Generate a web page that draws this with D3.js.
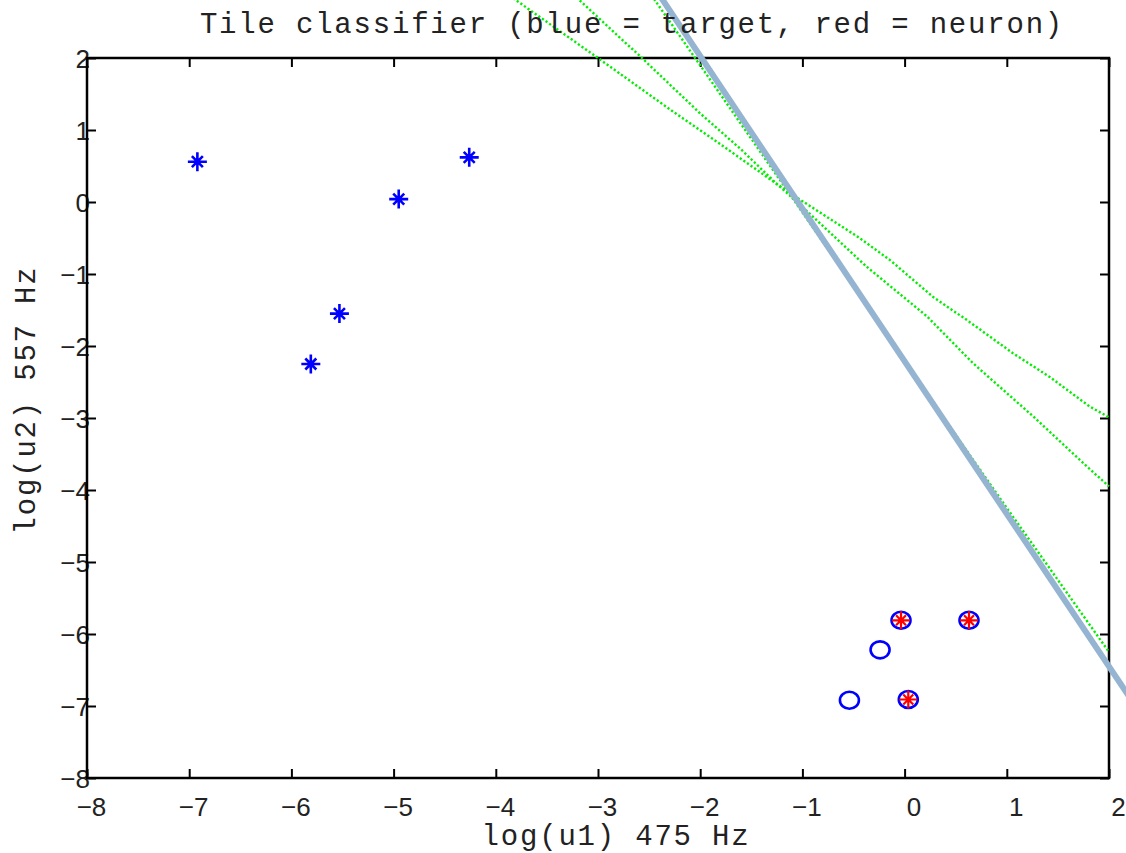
<!DOCTYPE html>
<html>
<head>
<meta charset="utf-8">
<script src="https://cdn.jsdelivr.net/npm/d3@7"></script>
<style>
  html, body { margin: 0; padding: 0; background: #fff; }
  svg { display: block; }
</style>
</head>
<body>
<svg id="chart" width="1126" height="853"></svg>
<script>
// ---- data ----
const xTicks = [-8, -7, -6, -5, -4, -3, -2, -1, 0, 1, 2];
const yTicks = [-8, -7, -6, -5, -4, -3, -2, -1, 0, 1, 2];

const targetStarX = [-6.92, -5.81, -5.53, -4.95, -4.26];
const targetStarY = [0.56, -2.25, -1.55, 0.04, 0.62];

const targetCircleX = [-0.54, -0.24, -0.035, 0.036, 0.63];
const targetCircleY = [-6.92, -6.22, -5.81, -6.91, -5.81];

const neuronStarX = [-0.035, 0.036, 0.63];
const neuronStarY = [-5.81, -6.91, -5.81];

const boundaryX = [-2.6, 2.4];
const boundaryY = [3.30, -7.30];

const greenAX = [-3.9, -3.0, -2.3, -1.9, -1.25, -1.02, -0.44, -0.14, 0.28, 0.61, 1.06, 1.42, 1.81, 2.0];
const greenAY = [2.90, 2.00, 1.29, 0.90, 0.25, 0.03, -0.50, -0.81, -1.32, -1.64, -2.10, -2.43, -2.84, -2.99];

const greenBX = [-3.4, -2.57, -2.0, -1.6, -1.25, -1.02, -0.37, 0.22, 0.67, 1.26, 1.75, 2.0];
const greenBY = [3.09, 2.00, 1.23, 0.73, 0.25, -0.04, -0.90, -1.59, -2.24, -2.98, -3.63, -3.95];

const greenCX = [-2.55, -2.05, -1.55, -1.1, -0.5, 0.35, 1.0, 1.5, 2.0];
const greenCY = [3.02, 2.00, 0.98, 0.06, -1.17, -2.93, -4.25, -5.25, -6.25];

const titleText = "Tile classifier (blue = target, red = neuron)";
const xLabelText = "log(u1) 475 Hz";
const yLabelText = "log(u2) 557 Hz";

// ---- layout ----
const plotL = 87, plotR = 1109, plotT = 58, plotB = 778;
const x = d3.scaleLinear().domain([-8, 2]).range([plotL, plotR]);
const y = d3.scaleLinear().domain([-8, 2]).range([plotB, plotT]);

const svg = d3.select("#chart");
svg.append("rect").attr("width", 1126).attr("height", 853).attr("fill", "#fff");

const tickFont = "'Liberation Sans', Arial, sans-serif";
const monoFont = "'Liberation Mono', 'Courier New', monospace";

function styleAxis(g) {
  g.select(".domain").remove();
  g.selectAll(".tick line").attr("stroke", "#000").attr("stroke-width", 2);
}

const fmt = d => d < 0 ? "\u2212" + Math.abs(d) : String(d);

// bottom axis
const gx = svg.append("g").attr("transform", `translate(0,${plotB})`)
  .call(d3.axisBottom(x).tickValues(xTicks).tickSizeInner(-9).tickSizeOuter(0).tickFormat(fmt));
styleAxis(gx);
gx.selectAll(".tick text")
  .attr("font-family", tickFont).attr("font-size", 26).attr("fill", "#222")
  .attr("y", 38).attr("dy", 0)
  .attr("dx", d => d < 0 ? 4 : 9);

// top ticks
const gxt = svg.append("g").attr("transform", `translate(0,${plotT})`)
  .call(d3.axisTop(x).tickValues(xTicks).tickSizeInner(-9).tickSizeOuter(0).tickFormat(""));
styleAxis(gxt);

// left axis
const gy = svg.append("g").attr("transform", `translate(${plotL},0)`)
  .call(d3.axisLeft(y).tickValues(yTicks).tickSizeInner(-9).tickSizeOuter(0).tickFormat(fmt));
styleAxis(gy);
gy.selectAll(".tick text")
  .attr("font-family", tickFont).attr("font-size", 26).attr("fill", "#222")
  .attr("x", 3).attr("dy", "0.38em").attr("text-anchor", "end");

// right ticks
const gyr = svg.append("g").attr("transform", `translate(${plotR},0)`)
  .call(d3.axisRight(y).tickValues(yTicks).tickSizeInner(-9).tickSizeOuter(0).tickFormat(""));
styleAxis(gyr);

// box
svg.append("rect")
  .attr("x", plotL).attr("y", plotT)
  .attr("width", plotR - plotL).attr("height", plotB - plotT)
  .attr("fill", "none").attr("stroke", "#000").attr("stroke-width", 2.5);

// ---- lines (unclipped, like the original) ----
const line = d3.line().x(d => x(d[0])).y(d => y(d[1]));
const greens = [
  d3.zip(greenAX, greenAY),
  d3.zip(greenBX, greenBY),
  d3.zip(greenCX, greenCY)
];
svg.append("g").selectAll("path").data(greens).join("path")
  .attr("d", line)
  .attr("fill", "none")
  .attr("stroke", "#00ee00")
  .attr("stroke-width", 2.4)
  .attr("stroke-dasharray", "2.2,2.2");

svg.append("path")
  .attr("d", line(d3.zip(boundaryX, boundaryY)))
  .attr("fill", "none")
  .attr("stroke", "#95b4d1")
  .attr("stroke-width", 6);

// ---- markers ----
function starPath(r, d) {
  return `M${-r},0L${r},0M0,${-r}L0,${r}M${-d},${-d}L${d},${d}M${-d},${d}L${d},${-d}`;
}

svg.append("g").selectAll("path").data(d3.zip(targetStarX, targetStarY)).join("path")
  .attr("transform", d => `translate(${x(d[0])},${y(d[1])})`)
  .attr("d", starPath(9.5, 5.5))
  .attr("fill", "none").attr("stroke", "#0000ff").attr("stroke-width", 2.6);

svg.append("g").selectAll("ellipse").data(d3.zip(targetCircleX, targetCircleY)).join("ellipse")
  .attr("cx", d => x(d[0])).attr("cy", d => y(d[1]))
  .attr("rx", 9.5).attr("ry", 8.5)
  .attr("fill", "none").attr("stroke", "#0000ff").attr("stroke-width", 2.6);

svg.append("g").selectAll("path").data(d3.zip(neuronStarX, neuronStarY)).join("path")
  .attr("transform", d => `translate(${x(d[0])},${y(d[1])})`)
  .attr("d", starPath(9, 5))
  .attr("fill", "none").attr("stroke", "#ff0000").attr("stroke-width", 2.2);

// ---- texts ----
svg.append("text")
  .attr("x", 632).attr("y", 33)
  .attr("text-anchor", "middle")
  .attr("font-family", monoFont).attr("font-size", 29).attr("letter-spacing", 1.8)
  .attr("fill", "#222")
  .attr("xml:space", "preserve")
  .text(titleText);

svg.append("text")
  .attr("x", 616).attr("y", 845)
  .attr("text-anchor", "middle")
  .attr("font-family", monoFont).attr("font-size", 29).attr("letter-spacing", 1.8)
  .attr("fill", "#222")
  .text(xLabelText);

svg.append("text")
  .attr("transform", "translate(35,400) rotate(-90)")
  .attr("text-anchor", "middle")
  .attr("font-family", monoFont).attr("font-size", 29).attr("letter-spacing", 1.8)
  .attr("fill", "#222")
  .text(yLabelText);
</script>
</body>
</html>
